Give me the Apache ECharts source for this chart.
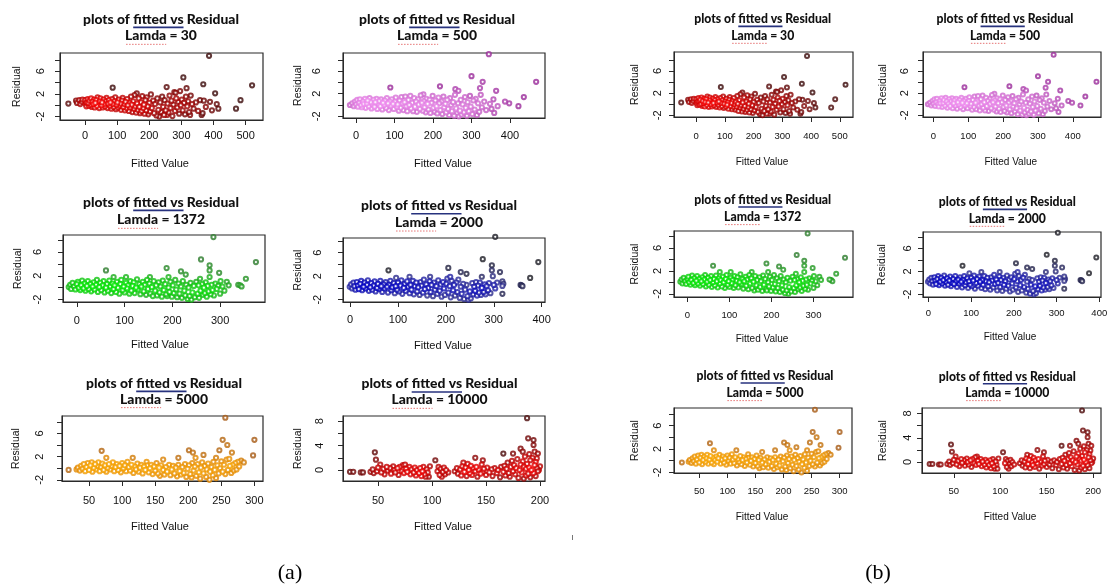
<!DOCTYPE html>
<html>
<head>
<meta charset="utf-8">
<script src="https://cdn.jsdelivr.net/npm/echarts@6/dist/echarts.min.js"></script>
<style>
  html, body { margin: 0; padding: 0; background: #fff; }
  #chart { width: 1109px; height: 586px; }
</style>
</head>
<body>
<div id="chart"></div>
<script>
// fitted vs residual: [fitted, residual]
const lamdas = ['30', '500', '1372', '2000', '5000', '10000'];

const fit30 = [
  [-52,0.3],[-28,0.8],[-25,0.4],[-18,0.9],[-15,0.2],[-10,0.6],[-8,1.0],
  [0,0.9],[2,0.2],[4,-0.2],[5,0.5],[8,1.1],[10,0.4],[12,-0.1],[14,0.8],[17,0.1],[19,1.2],
  [21,-0.3],[23,0.6],[26,0.2],[28,1.0],[30,-0.4],[32,0.4],[35,0.9],[37,-0.1],[39,1.4],[42,0.3],
  [44,-0.5],[46,0.7],[48,1.2],[51,0.0],[53,0.5],[55,-0.4],[58,1.0],[60,0.2],[62,-0.2],[65,0.7],
  [67,1.3],[70,-0.5],[72,0.3],[74,0.9],[77,-0.1],[79,0.5],[82,-0.6],[84,1.1],[86,3.1],[87,0.2],[89,-0.3],
  [91,0.7],[94,1.4],[96,-0.7],[98,0.1],[101,0.5],[103,-0.4],[105,1.0],[108,-0.1],[110,0.3],[112,-0.8],
  [115,0.8],[117,1.3],[119,-0.3],[122,0.2],[124,-0.9],[126,0.6],[129,-0.5],[131,1.1],[133,0.0],[136,-1.0],
  [138,0.4],[140,-0.4],[143,1.5],[145,0.1],[147,-1.2],[150,0.7],[152,-0.6],[154,1.8],[156,-0.2],[159,-1.3],
  [161,2.1],[162,0.3],[164,-0.8],[167,1.2],[169,-0.3],[171,-1.4],[174,0.5],[176,-1.0],[178,1.6],[181,-0.5],
  [183,0.1],[185,-1.5],[188,0.9],[190,-0.9],[192,1.4],[195,-0.2],[197,-1.6],[200,0.4],[202,-1.1],[205,1.9],
  [208,-0.5],[212,0.8],[215,-1.4],[218,0.2],[222,-1.8],[225,1.2],[228,-0.8],[231,-2.0],[234,0.5],[237,-1.2],
  [240,1.5],[243,-0.3],[246,-1.7],[248,0.9],[251,-0.9],[254,3.2],[255,-1.7],[257,0.3],[260,-1.3],[263,1.7],
  [266,-0.5],[269,0.8],[272,-1.9],[275,0.1],[278,2.3],[280,-1.0],[282,2.2],[284,1.2],[287,-0.4],[290,0.6],
  [293,-1.5],[296,2.5],[298,0.0],[301,1.0],[304,-0.9],[306,4.9],[308,0.4],[311,-1.6],[314,1.5],[316,3.0],
  [318,-0.2],[321,0.7],[324,-1.2],[327,-1.7],[329,1.7],[333,0.2],[338,-0.6],[345,0.5],[352,-1.0],[358,0.9],
  [363,-1.7],[366,-1.4],[368,3.7],[370,0.8],[376,-0.3],[386,8.7],[389,0.6],[395,-0.9],[405,2.1],[410,0.2],
  [415,-0.6],[470,-0.6],[484,0.9],[520,3.5]
];

const fit500 = [
  [-16,0.0],[-10,0.3],[-6,-0.2],[-3,0.6],[0,0.1],[3,0.9],[5,-0.3],[8,0.4],[10,1.0],[13,0.0],
  [15,-0.4],[18,0.6],[20,0.2],[23,1.1],[25,-0.5],[28,0.3],[30,0.8],[33,-0.2],[35,1.2],[38,0.5],
  [40,-0.6],[43,0.1],[45,0.9],[48,-0.3],[50,0.5],[53,1.1],[55,-0.7],[58,0.2],[60,0.7],[63,-0.2],
  [65,1.0],[68,-0.8],[70,0.4],[73,0.0],[75,0.8],[78,-0.5],[80,1.2],[83,0.3],[85,-0.9],[88,0.6],
  [89,3.1],[91,-0.1],[93,1.0],[96,0.2],[98,-0.7],[101,0.6],[103,1.3],[106,-0.3],[108,0.1],[111,-1.0],
  [113,0.8],[116,-0.5],[118,1.4],[121,0.3],[123,-0.9],[126,0.5],[128,1.5],[131,-0.2],[133,-1.1],[136,0.9],
  [138,0.0],[141,1.6],[143,-0.6],[146,0.4],[148,-1.1],[151,1.2],[153,-0.3],[156,0.6],[158,-1.2],[161,1.0],
  [163,0.1],[166,-0.7],[168,1.7],[171,0.4],[173,-1.0],[175,1.9],[176,0.7],[178,-0.4],[181,-1.3],[183,1.1],
  [186,0.2],[188,-0.8],[191,0.9],[193,-1.4],[196,0.4],[199,1.6],[201,-0.5],[204,-1.2],[206,0.8],[209,-0.2],
  [211,-1.5],[214,1.3],[216,0.3],[218,3.3],[219,-0.9],[222,0.6],[224,-1.6],[227,1.5],[229,-0.4],[232,0.2],
  [234,-1.3],[237,0.9],[239,-0.7],[242,-1.8],[244,1.2],[247,0.0],[249,-1.1],[252,0.5],[255,-1.9],[257,1.8],
  [258,2.8],[260,-0.6],[262,-1.5],[265,0.3],[266,2.5],[267,-2.0],[270,-1.0],[272,0.9],[274,-1.7],[277,0.1],
  [280,-1.3],[283,1.4],[285,-0.5],[288,-1.9],[290,0.5],[293,-1.1],[296,1.6],[298,-0.3],[300,5.1],[302,-1.6],
  [305,0.8],[308,-0.8],[311,1.1],[314,-1.8],[317,0.3],[320,-1.2],[322,3.0],[324,1.8],[327,-0.4],[329,4.1],
  [333,0.6],[338,-0.9],[345,9.0],[348,0.2],[352,-0.7],[357,1.0],[359,-1.4],[364,2.5],[368,-0.2],
  [387,0.6],[398,0.3],[422,-0.2],[436,1.4],[468,4.1]
];

const fit1372 = [
  [-17,0.1],[-14,0.5],[-12,-0.2],[-9,0.8],[-6,0.2],[-3,-0.3],[0,0.6],[2,1.0],[4,0.0],[7,-0.4],
  [9,0.4],[11,1.2],[14,-0.1],[16,0.7],[18,-0.5],[21,0.3],[23,1.1],[25,-0.2],[28,0.6],[30,-0.6],
  [33,0.2],[35,0.9],[37,-0.3],[40,0.5],[42,1.3],[44,-0.7],[47,0.1],[49,0.8],[51,-0.4],[54,0.4],
  [56,1.1],[58,-0.8],[61,0.0],[61,2.9],[63,0.6],[65,-0.5],[68,1.2],[70,0.2],[72,-0.9],[75,0.7],
  [77,1.8],[77,-0.2],[79,0.4],[82,-0.7],[84,1.0],[86,0.0],[89,-1.0],[91,0.6],[93,1.3],[96,-0.4],
  [98,0.2],[100,-0.8],[103,1.8],[103,0.8],[105,-0.1],[107,0.4],[110,-1.0],[112,1.1],[114,-0.5],[117,0.3],
  [119,0.9],[121,-0.9],[124,0.0],[126,1.4],[128,-0.3],[131,0.6],[133,-1.1],[135,0.2],[138,1.0],[140,-0.6],
  [142,0.5],[145,-1.2],[147,1.3],[149,-0.2],[152,0.7],[153,1.8],[154,-1.0],[157,0.1],[159,-1.4],[161,1.1],
  [164,-0.5],[166,0.4],[168,-1.3],[171,0.9],[173,-0.8],[175,0.2],[178,-1.5],[180,1.2],[182,-0.4],[185,0.6],
  [187,-1.1],[188,3.3],[189,-1.4],[192,1.8],[192,0.0],[194,-0.7],[196,1.0],[199,-1.5],[201,0.4],[203,-0.9],
  [206,1.3],[208,-0.3],[210,-1.6],[213,0.7],[215,-1.0],[218,2.75],[218,0.2],[220,-1.7],[222,1.1],[225,-0.5],
  [227,-1.3],[228,2.2],[229,0.5],[232,-1.9],[234,0.0],[236,-1.4],[238,0.8],[240,-2.0],[242,-0.8],[245,0.3],
  [247,-1.6],[250,1.0],[253,-1.0],[255,0.4],[256,-1.7],[258,1.5],[259,-0.5],[260,4.75],[262,0.6],[264,-1.2],
  [266,0.0],[268,-0.9],[270,0.9],[272,-1.5],[274,0.3],[276,-0.6],[278,3.75],[278,2.9],[278,1.8],[280,-1.1],
  [282,0.5],[284,-0.4],[286,8.5],[287,-1.3],[290,0.7],[293,-0.2],[296,0.3],[298,2.5],[300,-1.0],[301,1.1],
  [305,0.2],[309,-0.5],[314,1.0],[318,0.4],[338,0.5],[342,0.4],[345,0.2],[354,1.5],[375,4.3]
];

const fit2000 = [
  [-1,0.2],[2,0.6],[4,-0.1],[7,0.9],[9,0.3],[11,-0.3],[14,1.0],[16,0.4],[18,-0.2],[21,0.7],
  [23,1.2],[25,-0.4],[28,0.2],[30,0.9],[32,-0.1],[35,0.5],[37,1.3],[39,-0.5],[42,0.1],[44,0.8],
  [46,-0.3],[49,0.4],[51,1.1],[53,-0.6],[56,0.0],[58,0.7],[60,-0.2],[63,1.2],[65,0.3],[67,-0.7],
  [70,0.6],[72,-0.1],[74,1.0],[77,0.2],[79,-0.8],[80,3.0],[81,0.5],[84,1.2],[86,-0.4],[88,0.1],
  [91,0.8],[93,-0.9],[95,0.3],[96,1.7],[98,-0.3],[100,0.9],[102,-0.6],[105,0.4],[107,1.3],[109,-1.0],
  [112,0.0],[114,0.7],[116,-0.5],[119,1.1],[121,0.2],[124,1.9],[124,-0.9],[126,0.5],[128,-0.3],[131,1.2],
  [133,-1.1],[135,0.3],[138,0.9],[140,-0.6],[142,0.1],[145,-1.2],[147,1.0],[149,0.4],[152,-0.8],[154,1.4],
  [156,-0.2],[159,0.6],[161,-1.3],[163,0.0],[166,1.1],[167,1.9],[168,-0.7],[170,0.5],[173,-1.4],[175,0.9],
  [177,-0.3],[180,0.3],[182,-1.0],[184,1.3],[187,-0.5],[189,0.6],[191,-1.5],[194,1.0],[196,-0.1],[198,-1.2],
  [201,0.7],[203,1.6],[205,3.4],[205,-0.8],[208,0.3],[209,1.9],[210,-1.6],[212,1.2],[215,-0.4],[217,0.5],
  [219,-1.3],[222,0.9],[224,-0.7],[226,1.4],[229,-1.7],[231,2.7],[231,0.2],[233,-1.0],[236,0.7],[238,-1.9],
  [240,-0.3],[243,2.4],[243,0.5],[245,-1.4],[247,-2.0],[250,-0.6],[252,-1.8],[255,0.8],[257,-1.1],[259,0.2],
  [261,-0.5],[263,1.0],[265,-1.3],[267,0.4],[269,-0.8],[271,0.9],[273,-1.2],[275,1.9],[275,0.0],[277,4.9],
  [279,-0.7],[281,0.6],[283,-1.1],[285,0.3],[288,-0.4],[290,0.8],[293,-0.9],[296,3.85],[296,3.0],[298,2.0],
  [300,0.5],[303,8.7],[303,-0.1],[307,0.9],[313,2.7],[318,1.1],[318,0.33],[318,-1.0],[320,0.7],
  [356,0.5],[358,0.45],[360,0.3],[376,1.7],[393,4.4]
];

const fit5000 = [
  [19,-0.3],[31,-0.2],[33,0.1],[36,-0.4],[38,0.4],[40,-0.1],[42,0.7],[44,-0.5],[46,0.2],[48,0.9],
  [50,-0.3],[52,0.5],[54,1.0],[55,-0.6],[57,0.1],[59,0.7],[61,-0.2],[63,0.4],[64,1.0],[66,-0.5],
  [68,0.2],[69,3.0],[70,0.8],[72,-0.3],[74,0.5],[76,1.8],[76,-0.6],[78,0.1],[80,0.7],[82,-0.2],
  [84,0.4],[86,1.0],[88,-0.5],[90,0.2],[92,0.7],[94,-0.3],[96,0.4],[98,-0.7],[100,0.9],[102,0.0],
  [104,0.5],[106,-0.5],[108,1.1],[110,0.2],[112,-0.4],[114,0.6],[116,1.8],[117,-0.8],[119,0.3],[121,-0.2],
  [123,0.8],[125,-0.6],[127,0.1],[129,0.6],[131,-0.9],[133,0.3],[135,-0.3],[137,1.1],[138,0.5],[140,-0.7],
  [142,0.0],[144,0.6],[146,-1.0],[148,0.3],[150,-0.4],[152,0.9],[154,-0.9],[156,0.1],[157,-1.3],[159,0.5],
  [162,1.5],[162,-0.3],[164,-1.1],[166,0.2],[168,-0.6],[171,0.6],[173,-1.2],[175,-0.2],[177,0.4],[179,-0.9],
  [181,0.1],[183,-1.4],[185,1.8],[185,0.6],[187,-0.5],[189,-1.1],[191,0.2],[193,-0.8],[195,0.7],[197,-1.5],
  [199,-0.1],[201,3.1],[201,0.5],[203,-1.0],[205,-1.6],[206,0.9],[207,2.7],[208,-0.4],[210,0.3],[211,1.8],
  [212,-1.3],[214,0.7],[216,-0.7],[218,-1.8],[219,0.1],[221,1.0],[223,2.3],[223,-0.9],[225,0.4],[227,-1.5],
  [228,-0.2],[230,0.8],[232,-2.0],[233,-0.6],[235,0.2],[237,-1.2],[238,1.1],[240,-0.3],[242,1.8],[242,-1.7],
  [244,0.5],[246,-0.9],[247,3.1],[248,0.0],[250,1.2],[252,4.9],[252,-0.6],[254,0.6],[256,8.7],[256,-1.0],
  [258,1.5],[259,4.0],[260,-0.3],[262,1.6],[263,0.4],[265,-0.8],[266,2.7],[267,0.6],[269,-0.4],[271,0.9],
  [273,-0.2],[275,1.1],[277,0.3],[280,1.3],[284,1.0],[298,2.2],[300,4.9]
];

const fit10000 = [
  [24,-0.3],[27,-0.3],[34,-0.4],[36,-0.4],[43,-0.3],[45,0.1],[46,-0.5],[47,2.9],[48,1.7],[49,-0.2],
  [50,0.4],[52,0.9],[53,-0.4],[55,0.2],[56,-0.7],[58,0.5],[59,-0.1],[61,0.3],[62,-0.6],[64,0.6],
  [65,0.0],[66,-0.4],[68,0.3],[69,-0.8],[70,0.5],[72,-0.2],[73,0.8],[74,-0.5],[75,0.9],[76,0.2],
  [77,-0.3],[79,0.5],[80,-0.7],[81,0.1],[83,-0.4],[84,0.4],[85,-0.9],[86,0.0],[88,-0.5],[89,0.3],
  [90,-1.0],[91,-0.2],[92,0.5],[93,-0.7],[94,-1.1],[95,0.1],[96,-0.4],[97,-1.1],[98,0.6],[103,1.6],
  [105,-0.2],[106,0.5],[107,-0.8],[108,0.2],[109,-1.1],[110,-0.3],[111,0.4],[112,-0.7],[113,0.0],[115,-0.4],
  [121,-0.2],[123,0.3],[124,-0.6],[126,0.1],[127,-0.9],[128,0.6],[129,1.2],[130,-0.3],[131,0.4],[132,-1.0],
  [133,1.0],[134,0.0],[135,-0.5],[136,0.7],[137,-0.8],[138,0.3],[140,2.0],[140,-0.2],[141,0.5],[142,-1.1],
  [143,0.1],[145,-0.6],[146,0.9],[147,1.6],[147,-0.3],[148,0.2],[150,-0.8],[151,0.4],[153,-0.4],[155,0.1],
  [156,-1.0],[158,0.3],[160,-0.5],[161,0.0],[163,-1.2],[164,0.5],[166,2.7],[166,-0.3],[167,0.7],[168,-0.9],
  [169,0.2],[170,1.2],[171,-0.5],[172,-1.1],[173,0.5],[174,1.5],[175,-0.2],[175,2.7],[176,0.8],[177,-0.7],
  [178,0.3],[179,1.8],[180,-1.3],[181,0.0],[182,3.5],[182,0.9],[183,-0.4],[184,3.0],[184,1.4],[185,-1.4],
  [185,0.5],[186,2.2],[187,-0.9],[187,0.2],[188,8.5],[188,1.0],[189,5.2],[189,-0.6],[190,2.6],[190,0.4],
  [191,-1.2],[191,1.6],[192,0.0],[193,2.0],[194,4.9],[194,4.1],[194,-0.5],[195,3.0],[195,0.8],[196,1.3],
  [196,-1.0],[197,1.9],[197,0.3],[198,2.7],[198,-0.2],[199,0.0],[200,0.6]
];

// axis ticks, R style: every tick drawn, only some labelled on y
const xTicks30 = [0, 100, 200, 300, 400, 500];
const xTicks500 = [0, 100, 200, 300, 400];
const xTicks1372 = [0, 100, 200, 300];
const xTicks2000 = [0, 100, 200, 300, 400];
const xTicks5000 = [50, 100, 150, 200, 250, 300];
const xTicks10000 = [50, 100, 150, 200];
const yTicks = [-2, 0, 2, 4, 6, 8];
const yLabels = [-2, 2, 6];
const yTicks10000 = [0, 2, 4, 6, 8];
const yLabels10000 = [0, 4, 8];

const datasets = [fit30, fit500, fit1372, fit2000, fit5000, fit10000];
const xTickSets = [xTicks30, xTicks500, xTicks1372, xTicks2000, xTicks5000, xTicks10000];

// colour ramps: sparse points -> dense core
const ramps = [
  ['#3a0808', '#a00000', '#f20000'],
  ['#9a2a9a', '#cc66cc', '#ee8aee'],
  ['#2a7a2a', '#14b814', '#00e600'],
  ['#1c1c24', '#2c2c96', '#0000c4'],
  ['#a65a14', '#e08600', '#f8a400'],
  ['#4a0808', '#a80000', '#f00000']
];

// layout of the 12 small plots (pixel boxes)
const cells = [
  { d: 0, side: 'a', g: [60, 53, 203, 67], x: [-78, 554], y: [-2.6, 9.2], t: [161, 19.3, 36], fv: [160, 164], rx: 17, xg: 17, yg: 20 },
  { d: 1, side: 'a', g: [343, 53, 202, 65], x: [-34, 491], y: [-2.3, 9.2], t: [437, 19.3, 36], fv: [443, 164], rx: 298, xg: 19, yg: 27 },
  { d: 2, side: 'a', g: [63, 235, 202, 67], x: [-29, 394], y: [-2.4, 8.85], t: [161, 202.3, 220], fv: [160, 345], rx: 18, xg: 20, yg: 26 },
  { d: 3, side: 'a', g: [343, 238, 202, 64], x: [-15, 407], y: [-2.4, 8.5], t: [439, 205.7, 222.7], fv: [443, 346], rx: 298, xg: 19, yg: 26 },
  { d: 4, side: 'a', g: [62, 416, 201, 65], x: [9, 313], y: [-2.2, 9.0], t: [164, 383.3, 399.3], fv: [160, 527], rx: 16, xg: 21, yg: 23 },
  { d: 5, side: 'a', g: [343, 416, 202, 65], x: [17.5, 204.6], y: [-1.8, 8.85], t: [439.5, 384, 400], fv: [443, 527], rx: 298, xg: 21, yg: 24 },
  { d: 0, side: 'b', g: [674, 52, 179, 65], x: [-77, 546], y: [-2.3, 9.4], t: [762.7, 19.3, 36], fv: [762, 162], rx: 635, xg: 20, yg: 17 },
  { d: 1, side: 'b', g: [923, 52, 178, 65], x: [-30, 481], y: [-2.3, 9.5], t: [1005, 19.3, 36], fv: [1010.7, 162], rx: 882.7, xg: 20, yg: 19 },
  { d: 2, side: 'b', g: [674, 231, 179, 66], x: [-32, 394], y: [-2.55, 8.95], t: [762.7, 200, 217.3], fv: [762, 339], rx: 635, xg: 19, yg: 17 },
  { d: 3, side: 'b', g: [923, 232, 178, 65], x: [-12.5, 404], y: [-2.45, 8.85], t: [1007.3, 202.3, 219], fv: [1010, 337], rx: 882, xg: 17, yg: 16 },
  { d: 4, side: 'b', g: [674, 408, 178, 65], x: [5, 322], y: [-2.1, 9.0], t: [765, 376, 393.3], fv: [762, 517], rx: 635, xg: 19, yg: 17 },
  { d: 5, side: 'b', g: [922, 408, 179, 65], x: [15.8, 208.4], y: [-1.8, 8.9], t: [1007.3, 376.7, 393.3], fv: [1010, 517], rx: 882.7, xg: 19, yg: 15 }
];

const SANS = '"Liberation Sans", Arial, sans-serif';
const TITLE_FONT = 'Lato, "Liberation Sans", sans-serif';
const ctx = document.createElement('canvas').getContext('2d');
function textW(t, font) { ctx.font = font; return ctx.measureText(t).width; }

const line1 = 'plots of fitted vs Residual';
const titleSize = { a: 100 * 156 / textW(line1, '900 100px ' + TITLE_FONT), b: 100 * 137 / textW(line1, '900 100px ' + TITLE_FONT) };

function hex(c) { return [1, 3, 5].map(i => parseInt(c.slice(i, i + 2), 16)); }
function mix(a, b, t) {
  const A = hex(a), B = hex(b);
  return 'rgb(' + A.map((v, i) => Math.round(v + (B[i] - v) * t)).join(',') + ')';
}
function rampColor(r, t) {
  return t < 0.5 ? mix(r[0], r[1], t * 2) : mix(r[1], r[2], (t - 0.5) * 2);
}

// neighbour count in screen-ish units, used only for the colour of each point
function withDensity(pts, c) {
  const sx = c.g[2] / (c.x[1] - c.x[0]), sy = c.g[3] / (c.y[1] - c.y[0]);
  const n = pts.map(p => pts.reduce((k, q) => {
    const dx = (p[0] - q[0]) * sx, dy = (p[1] - q[1]) * sy;
    return k + (dx * dx + dy * dy < 90 ? 1 : 0);
  }, 0));
  const max = Math.max(...n);
  return pts.map((p, i) => [p[0], p[1], Math.pow((n[i] - 1) / (max - 1), 0.8)])
    .sort((a, b) => a[2] - b[2]);
}

const grids = [], xAxes = [], yAxes = [], series = [], graphics = [];

cells.forEach((c, i) => {
  const isA = c.side === 'a';
  const xfs = isA ? 11 : 9.5;
  const yTk = c.d === 5 ? yTicks10000 : yTicks;
  const yLb = c.d === 5 ? yLabels10000 : yLabels;
  grids.push({ left: c.g[0], top: c.g[1], width: c.g[2], height: c.g[3], show: true,
    borderColor: '#2a2a2a', borderWidth: 1.2, containLabel: false, outerBoundsMode: 'none' });
  xAxes.push({
    type: 'value', gridIndex: i, min: c.x[0], max: c.x[1],
    axisLine: { show: true, onZero: false, lineStyle: { color: '#2a2a2a' } },
    splitLine: { show: false },
    axisTick: { show: true, length: 5, customValues: xTickSets[c.d], lineStyle: { color: '#2a2a2a' } },
    axisLabel: { customValues: xTickSets[c.d], margin: c.xg - xfs * 0.6, fontSize: xfs, fontFamily: SANS, color: '#111' }
  });
  yAxes.push({
    type: 'value', gridIndex: i, min: c.y[0], max: c.y[1],
    axisLine: { show: true, onZero: false, lineStyle: { color: '#2a2a2a' } },
    splitLine: { show: false },
    axisTick: { show: true, length: 5, customValues: yTk, lineStyle: { color: '#2a2a2a' } },
    axisLabel: { customValues: yLb, rotate: 90, margin: c.yg - 6, fontSize: 11, fontFamily: SANS, color: '#111' }
  });
  const ramp = ramps[c.d];
  series.push({
    type: 'scatter', xAxisIndex: i, yAxisIndex: i, silent: true, clip: false,
    symbol: 'emptyCircle', symbolSize: isA ? 4.2 : 4,
    data: withDensity(datasets[c.d], c),
    itemStyle: { borderWidth: 1.1, color: p => rampColor(ramp, p.value[2]) }
  });

  // two-line title with the word-processor underlines
  const fs = titleSize[c.side];
  const font = '900 ' + fs.toFixed(2) + 'px ' + TITLE_FONT;
  const line2 = 'Lamda = ' + lamdas[c.d];
  const w1 = textW(line1, font), w2 = textW(line2, font);
  const ux = c.t[0] - w1 / 2 + textW('plots of ', font);
  const uw = textW('fitted vs', font);
  const lw = textW('Lamda', font);
  graphics.push(
    { type: 'text', x: c.t[0], y: c.t[1], silent: true,
      style: { text: line1, font, fill: '#111', align: 'center', verticalAlign: 'middle', textAlign: 'center', textVerticalAlign: 'middle' } },
    { type: 'line', silent: true, shape: { x1: ux, y1: c.t[1] + fs * 0.58, x2: ux + uw, y2: c.t[1] + fs * 0.58 },
      style: { stroke: '#27327e', lineWidth: 1.6 } },
    { type: 'text', x: c.t[0], y: c.t[2], silent: true,
      style: { text: line2, font, fill: '#111', align: 'center', verticalAlign: 'middle', textAlign: 'center', textVerticalAlign: 'middle' } },
    { type: 'line', silent: true, shape: { x1: c.t[0] - w2 / 2 + 1, y1: c.t[2] + fs * 0.6, x2: c.t[0] - w2 / 2 + lw, y2: c.t[2] + fs * 0.6 },
      style: { stroke: '#e05050', lineWidth: 1, lineDash: [1.5, 1.5], opacity: 0.8 } },
    { type: 'text', x: c.fv[0], y: c.fv[1], silent: true,
      style: { text: 'Fitted Value', font: (isA ? 11 : 10) + 'px ' + SANS, fill: '#111', align: 'center', verticalAlign: 'middle', textAlign: 'center', textVerticalAlign: 'middle' } },
    { type: 'text', x: c.rx, y: c.g[1] + c.g[3] / 2, rotation: Math.PI / 2, silent: true,
      style: { text: 'Residual', font: '10.5px ' + SANS, fill: '#111', align: 'center', verticalAlign: 'middle', textAlign: 'center', textVerticalAlign: 'middle' } }
  );
});

graphics.push(
  { type: 'text', x: 290, y: 573, silent: true,
    style: { text: '(a)', font: '22px "Liberation Serif", "Times New Roman", serif', fill: '#000', align: 'center', verticalAlign: 'middle', textAlign: 'center', textVerticalAlign: 'middle' } },
  { type: 'text', x: 878, y: 573, silent: true,
    style: { text: '(b)', font: '22px "Liberation Serif", "Times New Roman", serif', fill: '#000', align: 'center', verticalAlign: 'middle', textAlign: 'center', textVerticalAlign: 'middle' } },
  { type: 'line', silent: true, shape: { x1: 572.5, y1: 535, x2: 572.5, y2: 540 }, style: { stroke: '#777', lineWidth: 1 } }
);

const chart = echarts.init(document.getElementById('chart'), null, { renderer: 'canvas' });
chart.setOption({
  animation: false,
  backgroundColor: '#fff',
  grid: grids,
  xAxis: xAxes,
  yAxis: yAxes,
  series,
  graphic: graphics
});
</script>
</body>
</html>
